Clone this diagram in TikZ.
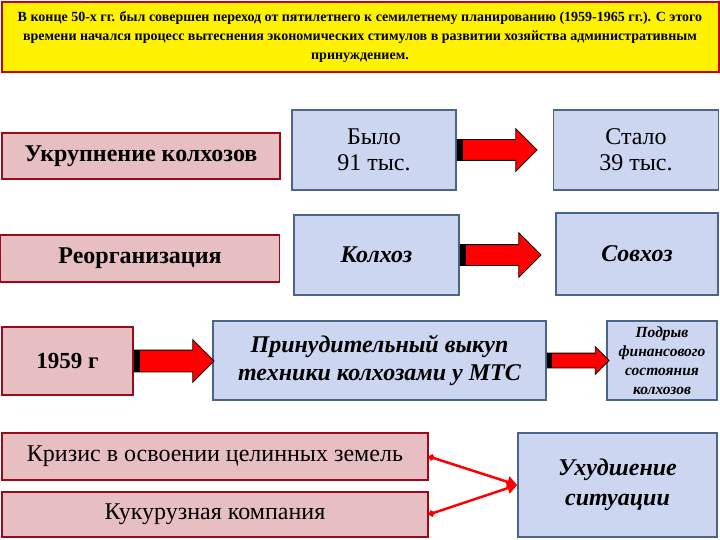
\documentclass[tikz,border=0pt]{standalone}
\usepackage{fontspec}
\setmainfont{Liberation Serif}
\usetikzlibrary{positioning, shapes.arrows, arrows.meta}
\definecolor{pinkfill}{RGB}{231,190,194}
\definecolor{pinkline}{RGB}{155,10,25}
\definecolor{bluefill}{RGB}{204,214,240}
\definecolor{blueline}{RGB}{75,100,135}
\definecolor{topred}{RGB}{205,0,0}
\tikzstyle{pinkbox} = [rectangle, draw=pinkline, fill=pinkfill, line width=1.5pt, text centered, inner sep=0pt]
\tikzstyle{bluebox} = [rectangle, draw=blueline, fill=bluefill, line width=1.5pt, align=center, inner sep=0pt]
\tikzstyle{bigarrow} = [single arrow, draw=black, fill=red, line width=0.8pt, anchor=tail, inner xsep=0pt, inner ysep=10pt]
\tikzstyle{redline} = [draw=red, line width=2.5pt, {Circle[length=6pt]}-{Triangle[length=10pt,width=11pt]}]

\begin{document}
\begin{tikzpicture}[x=1pt, y=-1pt]
\useasboundingbox (0,0) rectangle (720,540);
% шапка
\node (head) [draw=topred, fill=yellow, line width=2pt, minimum width=717pt, minimum height=70pt, inner sep=0pt, align=center, font=\fontsize{14}{19}\selectfont\bfseries] at (360,37) {В конце 50-х гг. был совершен переход от пятилетнего к семилетнему планированию (1959-1965 гг.). С этого\\времени начался процесс вытеснения экономических стимулов в развитии хозяйства административным\\принуждением.};

% укрупнение
\node (ukrup) [pinkbox, minimum width=278pt, minimum height=46pt, font=\fontsize{24}{28}\selectfont\bfseries] at (141,156) {Укрупнение колхозов};
\node (bylo) [bluebox, minimum width=164pt, minimum height=80pt, font=\fontsize{24}{26}\selectfont] at (374,150) {Было\\91 тыс.};
\node (stalo) [bluebox, right=96pt of bylo, minimum width=165pt, minimum height=80pt, font=\fontsize{24}{26}\selectfont] {Стало\\39 тыс.};
\node (ar1) [bigarrow, minimum height=80pt, single arrow head extend=11pt] at (bylo.east) {};
\fill (ar1.before tail) rectangle ([xshift=6pt]ar1.after tail);

% реорганизация
\node (reorg) [pinkbox, minimum width=279pt, minimum height=47pt, font=\fontsize{24}{28}\selectfont\bfseries] at (140,258.5) {Реорганизация};
\node (kolhoz) [bluebox, minimum width=165pt, minimum height=80pt, font=\fontsize{24}{28}\selectfont\bfseries\itshape] at (376.5,255) {Колхоз};
\node (sovhoz) [bluebox, minimum width=162pt, minimum height=82pt, font=\fontsize{24}{28}\selectfont\bfseries\itshape] at (637,254) {Совхоз};
\node (ar2) [bigarrow, minimum height=81pt, inner ysep=10pt, single arrow head extend=12pt] at (kolhoz.east) {};
\fill (ar2.before tail) rectangle ([xshift=6pt]ar2.after tail);

% 1959
\node (god) [pinkbox, minimum width=131pt, minimum height=68pt, font=\fontsize{23}{28}\selectfont\bfseries] at (67.5,361) {1959 г};
\node (vykup) [bluebox, minimum width=333pt, minimum height=79pt, font=\fontsize{24}{28}\selectfont\bfseries\itshape] at (379.5,360.5) {Принудительный выкуп\\техники колхозами у МТС};
\node (podryv) [bluebox, minimum width=110pt, minimum height=79pt, font=\fontsize{15.5}{19}\selectfont\bfseries\itshape] at (662,360.5) {Подрыв\\финансового\\состояния\\колхозов};
\node (ar3) [bigarrow, minimum height=80pt, inner ysep=10.5pt, single arrow head extend=10.5pt] at (god.east) {};
\fill (ar3.before tail) rectangle ([xshift=6pt]ar3.after tail);
\node (ar4) [bigarrow, minimum height=62pt, inner ysep=7pt, single arrow head extend=6.5pt] at (vykup.east) {};
\fill (ar4.before tail) rectangle ([xshift=5pt]ar4.after tail);

% итог
\node (krizis) [pinkbox, minimum width=426pt, minimum height=47pt, font=\fontsize{24}{28}\selectfont] at (215,456.5) {Кризис в освоении целинных земель};
\node (kukuruza) [pinkbox, minimum width=426pt, minimum height=45pt, font=\fontsize{24}{28}\selectfont] at (215,514.5) {Кукурузная компания};
\node (uhud) [bluebox, minimum width=199pt, minimum height=104pt, font=\fontsize{24}{30}\selectfont\bfseries\itshape] at (617.5,485) {Ухудшение\\ситуации};
\draw [redline] (krizis.east) -- (uhud.west);
\draw [redline] (kukuruza.east) -- (uhud.west);
\end{tikzpicture}
\end{document}
